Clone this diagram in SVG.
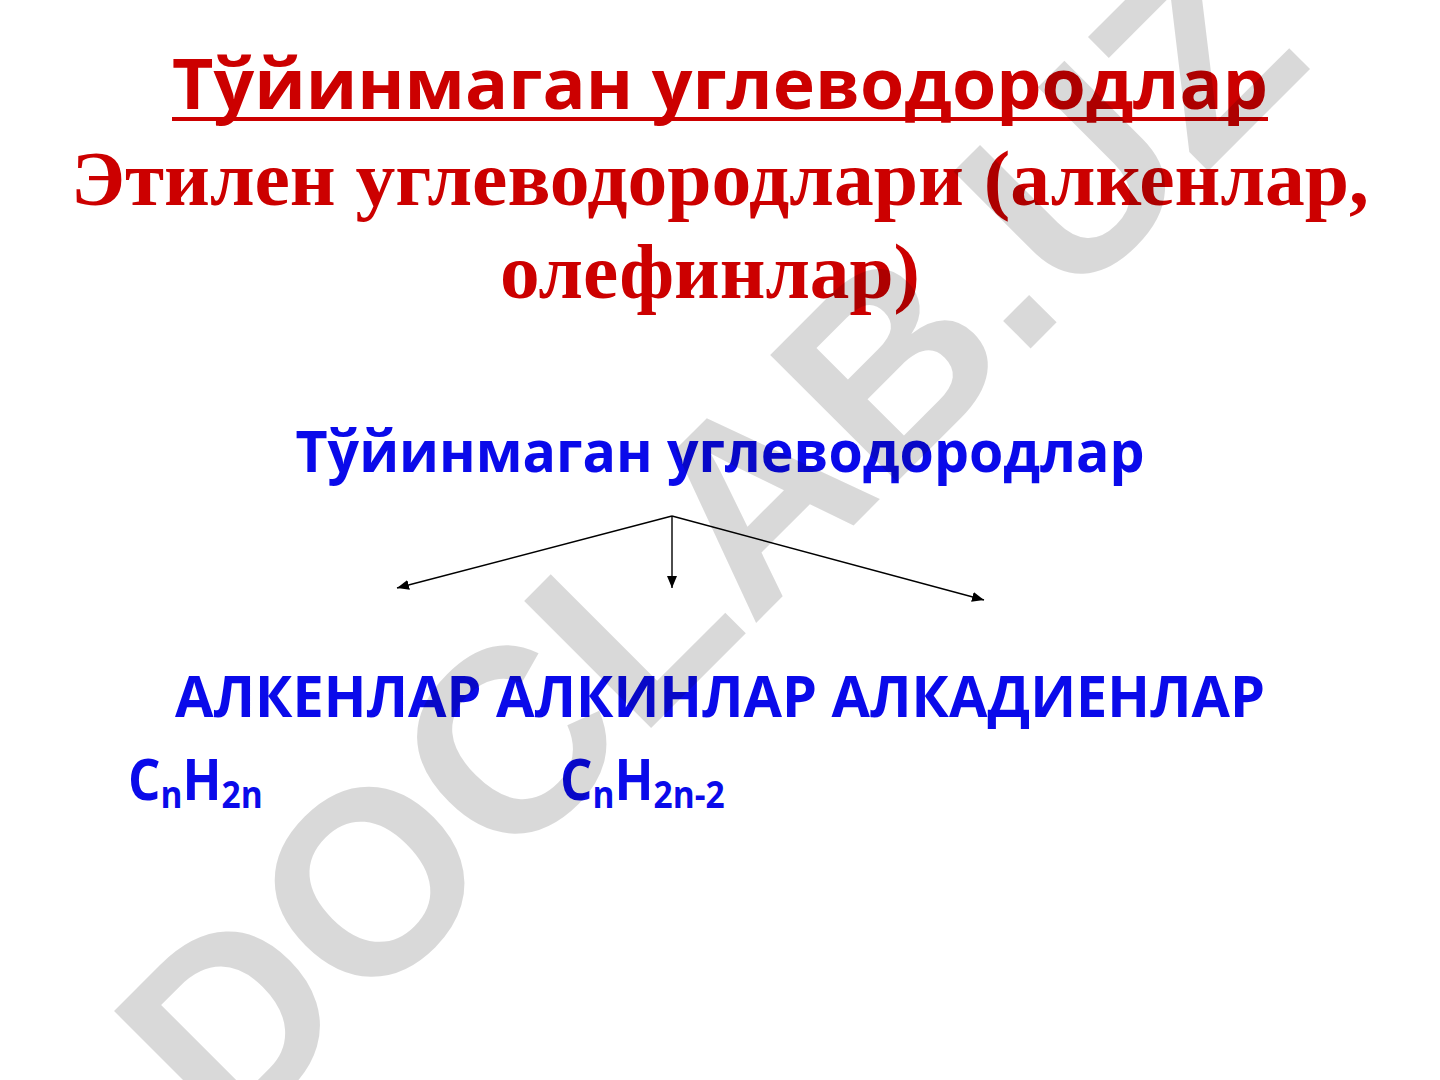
<svg xmlns="http://www.w3.org/2000/svg" width="1440" height="1080" viewBox="0 0 1440 1080">
<defs>
<style>
.red-sans{font-family:"Open Sans","Noto Sans","DejaVu Sans",sans-serif;font-weight:bold;fill:#cc0000}
.red-serif{font-family:"Liberation Serif","Times New Roman",serif;font-weight:bold;fill:#cc0000}
.blue{font-family:"Open Sans","Noto Sans","DejaVu Sans",sans-serif;font-weight:bold;fill:#0a0aea}
.conn{stroke:#000;stroke-width:1.4;fill:none;marker-end:url(#arr)}
.wm{font-family:"Liberation Sans",Arial,sans-serif;font-weight:bold;fill:#000;fill-opacity:0.15}
</style>
<marker id="arr" viewBox="0 0 12 10" refX="12" refY="5" markerWidth="12" markerHeight="10" markerUnits="userSpaceOnUse" orient="auto">
<path d="M0,0 L12,5 L0,10 z" fill="#000"/>
</marker>
</defs>
<rect width="1440" height="1080" fill="#fff"/>
<g id="title">
<text class="red-sans" x="720" y="109" font-size="70" text-anchor="middle" textLength="1096" lengthAdjust="spacingAndGlyphs">Тўйинмаган углеводородлар</text>
<rect x="172" y="117" width="1096" height="4" fill="#cc0000"/>
<text class="red-serif" x="720" y="205" font-size="78" text-anchor="middle" textLength="1298" lengthAdjust="spacingAndGlyphs">Этилен углеводородлари (алкенлар,</text>
<text class="red-serif" x="710" y="298" font-size="78" text-anchor="middle" textLength="420" lengthAdjust="spacingAndGlyphs">олефинлар)</text>
</g>
<g id="root">
<text class="blue" x="720" y="472" font-size="58" text-anchor="middle" textLength="849" lengthAdjust="spacingAndGlyphs">Тўйинмаган углеводородлар</text>
</g>
<g id="connectors">
<line class="conn" x1="672" y1="516" x2="397" y2="588"/>
<line class="conn" x1="672" y1="516" x2="672" y2="588"/>
<line class="conn" x1="672" y1="516" x2="984" y2="600"/>
</g>
<g id="classes">
<text class="blue" x="720" y="717" font-size="57" text-anchor="middle" textLength="1090" lengthAdjust="spacingAndGlyphs">АЛКЕНЛАР АЛКИНЛАР АЛКАДИЕНЛАР</text>
</g>
<g id="formula-alkenes">
<text class="blue" transform="translate(128,800) scale(0.88,1)" x="0" y="0" font-size="58">C<tspan font-size="38" dy="8">n</tspan><tspan dy="-8">H</tspan><tspan font-size="38" dy="8">2n</tspan></text>
</g>
<g id="formula-alkynes">
<text class="blue" transform="translate(560,800) scale(0.88,1)" x="0" y="0" font-size="58">C<tspan font-size="38" dy="8">n</tspan><tspan dy="-8">H</tspan><tspan font-size="38" dy="8">2n-2</tspan></text>
</g>
<g id="watermark">
<text class="wm" transform="translate(772,607) rotate(-45)" x="0" y="0" font-size="261" text-anchor="middle">DOCLAB.UZ</text>
</g>
</svg>
